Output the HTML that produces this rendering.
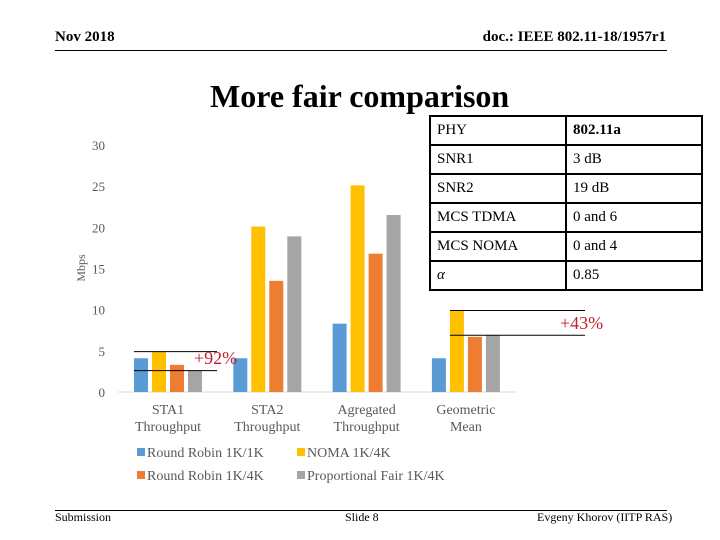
<!DOCTYPE html>
<html><head><meta charset="utf-8"><style>
body{margin:0;width:720px;height:540px;background:#fff;position:relative;overflow:hidden;font-family:"Liberation Serif",serif}
.a{position:absolute;white-space:nowrap}
table{border-collapse:collapse;position:absolute;left:429px;top:115px;font-size:15px}
td{border:2px solid #000;height:27px;padding:0 0 0 6px;box-sizing:content-box}
</style></head><body>
<div class="a" style="left:55px;top:29px;font-size:15px;font-weight:bold">Nov 2018</div>
<div class="a" style="right:54px;top:29px;font-size:15px;font-weight:bold">doc.: IEEE 802.11-18/1957r1</div>
<div class="a" style="left:55px;top:50px;width:612px;height:1px;background:#000"></div>
<div class="a" style="left:210px;top:78px;font-size:32px;font-weight:bold">More fair comparison</div>
<table>
<tr><td style="width:128px">PHY</td><td style="width:128px"><b>802.11a</b></td></tr>
<tr><td>SNR1</td><td>3 dB</td></tr>
<tr><td>SNR2</td><td>19 dB</td></tr>
<tr><td>MCS TDMA</td><td>0 and 6</td></tr>
<tr><td>MCS NOMA</td><td>0 and 4</td></tr>
<tr><td><i>α</i></td><td>0.85</td></tr>
</table>
<svg id="c" class="a" style="left:0;top:0" width="720" height="540"></svg>
<div class="a" style="left:55px;top:510px;width:612px;height:1px;background:#000"></div>
<div class="a" style="left:55px;top:510px;font-size:12px">Submission</div>
<div class="a" style="left:345px;top:510px;font-size:12px">Slide 8</div>
<div class="a" style="left:537px;top:510px;font-size:12px">Evgeny Khorov (IITP RAS)</div>
<script>
const categories=[["STA1","Throughput"],["STA2","Throughput"],["Agregated","Throughput"],["Geometric","Mean"]];
const seriesNames=["Round Robin 1K/1K","NOMA 1K/4K","Round Robin 1K/4K","Proportional Fair 1K/4K"];
const rr11=[4.1,4.1,8.3,4.1];
const noma=[4.9,20.1,25.1,9.9];
const rr14=[3.3,13.5,16.8,6.7];
const pf=[2.6,18.9,21.5,6.9];
const yTicks=[0,5,10,15,20,25,30];
const colors=["#5b9bd5","#ffc000","#ed7d31","#a5a5a5"];
const series=[rr11,noma,rr14,pf];
const NS="http://www.w3.org/2000/svg",svg=document.getElementById('c');
const y=v=>392-v*8.233, xc=i=>168+i*99.3;
function mk(t,a,txt){const e=document.createElementNS(NS,t);for(const k in a)e.setAttribute(k,a[k]);if(txt!=null)e.textContent=txt;svg.appendChild(e);return e;}
yTicks.forEach(t=>{const e=mk('text',{x:105,y:y(t)+5,'text-anchor':'end','font-size':13,fill:'#595959','font-family':'Liberation Serif'},t);

});
const yt=mk('text',{x:0,y:0,transform:'translate(85,268) rotate(-90)','text-anchor':'middle','font-size':12,fill:'#595959','font-family':'Liberation Serif'},'Mbps');


const ax=mk('line',{x1:118,x2:516,y1:392,y2:392,stroke:'#d9d9d9'});


series.forEach((s,j)=>s.forEach((v,i)=>{const r=mk('rect',{x:xc(i)-34+j*18,y:y(v),width:14,height:392-y(v),fill:colors[j]});

}));
categories.forEach((c,i)=>c.forEach((l,k)=>{const e=mk('text',{x:xc(i),y:414+k*17,'text-anchor':'middle','font-size':14,fill:'#595959','font-family':'Liberation Serif'},l);

}));
seriesNames.forEach((n,j)=>{const lx=137+(j%2)*160,ly=453+Math.floor(j/2)*23;
const r=mk('rect',{x:lx,y:ly-5,width:8,height:8,fill:colors[j]});


const t=mk('text',{x:lx+10,y:ly+4,'font-size':14,fill:'#595959','font-family':'Liberation Serif'},n);

});
[[134,217,noma[0]],[134,217,pf[0]],[450,585,noma[3]],[450,585,pf[3]]].forEach(a=>{const l=mk('line',{x1:a[0],x2:a[1],y1:y(a[2]),y2:y(a[2]),stroke:'#000','stroke-width':1});

});
const g1=mk('text',{x:194,y:364,'font-size':18,fill:'#c0202a','font-family':'Liberation Serif'},'+92%');


const g2=mk('text',{x:560,y:329,'font-size':18,fill:'#c0202a','font-family':'Liberation Serif'},'+43%');


</script>
</body></html>
